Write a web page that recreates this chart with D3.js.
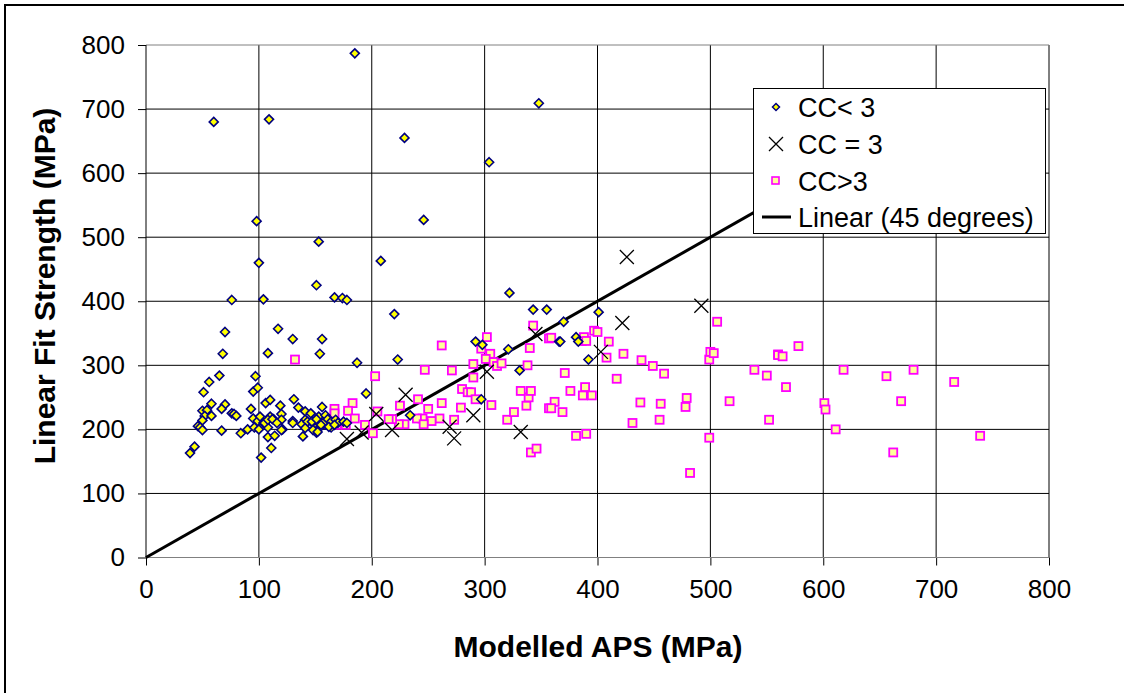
<!DOCTYPE html>
<html>
<head>
<meta charset="utf-8">
<title>Linear Fit Strength vs Modelled APS</title>
<style>
	body { margin: 0; background: #fff; }
	svg { display: block; font-family: "Liberation Sans", Arial, sans-serif; }
	.axis text { font-size: 26px; fill: #000; }
	.axis path { display: none; }
	.axis line { stroke: #000; }
	.title { font-size: 30px; font-weight: bold; }
	.legend text { font-size: 27px; }
</style>
<script src="https://cdn.jsdelivr.net/npm/d3@7"></script>
</head>
<body>
<script>
// CC < 3 (diamonds)
var ccLess3 = [
	[185,787],[348,709],[60,680],[109,684],[229,655],[304,617],[98,525],[246,527],
	[153,493],[100,460],[208,463],[151,425],[76,402],[104,403],[167,406],[174,405],
	[178,402],[322,413],[343,387],[355,387],[370,368],[70,352],[117,357],[220,380],
	[130,341],[156,341],[292,337],[366,337],[381,344],[68,318],[108,319],[154,318],
	[187,304],[223,309],[56,274],[65,284],[97,283],[51,258],[95,259],[99,265],
	[195,256],[58,240],[70,239],[67,232],[106,241],[110,246],[131,247],[119,237],
	[135,234],[93,232],[156,235],[50,229],[54,230],[76,225],[78,224],[80,221],
	[52,221],[58,221],[50,214],[95,217],[99,213],[110,220],[113,216],[120,224],
	[120,215],[130,213],[141,228],[146,225],[141,215],[138,208],[148,209],[153,220],
	[159,222],[162,210],[150,202],[154,203],[159,208],[164,203],[151,195],[46,205],
	[48,203],[50,199],[67,198],[84,194],[90,200],[96,203],[100,200],[104,210],
	[108,203],[121,200],[108,188],[114,190],[139,189],[111,171],[102,156],[43,173],
	[39,163],[143,212],[147,212],[151,216],[157,210],[161,216],[164,212],[168,215],
	[170,210],[175,212],[178,210],[155,207],[148,199],[152,196],[162,204],[167,207],
	[141,202],[130,210],[120,199],[105,210],[108,215],[112,216],[116,210],[101,220],
	[298,332],[321,325],[331,292],[297,247],[234,222],[401,383],[367,337],[383,337],
	[392,309]
];
// CC = 3 (crosses)
var ccEq3 = [
	[178,185],[191,195],[204,224],[218,199],[230,254],[269,204],[273,186],[290,222],
	[302,290],[332,196],[345,349],[403,321],[422,366],[426,469],[492,393]
];
// CC > 3 (squares)
var ccMore3 = [
	[262,331],[302,344],[297,326],[305,318],[301,310],[308,305],[311,299],[315,303],
	[290,302],[290,281],[247,293],[271,292],[203,283],[280,263],[285,258],[288,258],
	[292,247],[306,238],[241,247],[262,241],[250,232],[225,237],[279,234],[273,215],
	[260,217],[253,213],[245,217],[240,217],[246,208],[229,208],[224,208],[218,216],
	[215,216],[205,228],[194,207],[201,194],[183,241],[179,229],[185,217],[167,232],
	[169,207],[177,207],[167,225],[132,309],[320,215],[326,227],[337,237],[339,250],
	[332,260],[341,260],[338,300],[340,327],[343,362],[357,342],[341,164],[346,170],
	[357,233],[359,343],[371,288],[386,338],[388,344],[390,338],[397,354],[400,352],
	[410,337],[408,312],[423,318],[439,308],[449,299],[459,287],[417,279],[376,260],
	[389,266],[387,253],[395,253],[362,243],[359,233],[369,227],[381,190],[390,193],
	[438,242],[456,240],[455,215],[431,210],[479,249],[478,235],[482,132],[499,187],
	[517,244],[552,215],[499,309],[500,321],[503,319],[506,368],[539,293],[550,284],
	[560,317],[560,316],[564,314],[578,330],[567,266],[601,241],[602,231],[611,200],
	[618,293],[656,283],[680,293],[669,244],[662,164],[716,274],[739,190]
];
// 45 degree reference line (ends behind the legend)
var lineX = [0, 650];

var xTicks = [0, 100, 200, 300, 400, 500, 600, 700, 800];
var yTicks = [0, 100, 200, 300, 400, 500, 600, 700, 800];

var svg = d3.select("body").append("svg")
	.attr("width", 1124)
	.attr("height", 693);

// outer frame (only left and top edges fall inside the picture)
svg.append("rect")
	.attr("x", 5).attr("y", 5)
	.attr("width", 1200).attr("height", 800)
	.attr("fill", "none").attr("stroke", "#000").attr("stroke-width", 2);

var margin = {top: 45, left: 146},
	width = 903,
	height = 512.5;

var x = d3.scaleLinear().domain([0, 800]).range([0, width]),
	y = d3.scaleLinear().domain([0, 800]).range([height, 0]);

var g = svg.append("g")
	.attr("transform", "translate(" + margin.left + "," + margin.top + ")");

// grid
g.selectAll(".vgrid")
	.data(xTicks.slice(1))
	.enter().append("line")
		.attr("x1", function(d) { return x(d); })
		.attr("x2", function(d) { return x(d); })
		.attr("y1", 0).attr("y2", height)
		.attr("stroke", "#000").attr("stroke-width", 1);

g.selectAll(".hgrid")
	.data(yTicks.slice(1))
	.enter().append("line")
		.attr("x1", 0).attr("x2", width)
		.attr("y1", function(d) { return y(d); })
		.attr("y2", function(d) { return y(d); })
		.attr("stroke", function(d) { return d === 800 ? "#808080" : "#000"; })
		.attr("stroke-width", 1);

// axes
g.append("g")
	.attr("class", "axis")
	.attr("transform", "translate(0," + height + ")")
	.call(d3.axisBottom(x).tickValues(xTicks).tickSize(8).tickPadding(14));

g.append("g")
	.attr("class", "axis")
	.call(d3.axisLeft(y).tickValues(yTicks).tickSize(8).tickPadding(13));

g.append("line")
	.attr("x1", 0).attr("x2", width)
	.attr("y1", height).attr("y2", height)
	.attr("stroke", "#808080");
g.append("line")
	.attr("x1", 0).attr("x2", 0)
	.attr("y1", 0).attr("y2", height)
	.attr("stroke", "#000");

// 45 degree line
g.append("path")
	.datum(lineX)
	.attr("fill", "none")
	.attr("stroke", "#000")
	.attr("stroke-width", 3)
	.attr("d", d3.line()
		.x(function(d) { return x(d); })
		.y(function(d) { return y(d); }));

var diamond = "M0,-4.5L4.5,0L0,4.5L-4.5,0Z";
var cross = "M-7,-7L7,7M-7,7L7,-7";

g.selectAll(".sq")
	.data(ccMore3)
	.enter().append("rect")
		.attr("x", function(d) { return x(d[0]) - 4; })
		.attr("y", function(d) { return y(d[1]) - 4; })
		.attr("width", 8).attr("height", 8)
		.attr("fill", "#ffff99")
		.attr("stroke", "#ff00ff").attr("stroke-width", 1.8);

g.selectAll(".cr")
	.data(ccEq3)
	.enter().append("path")
		.attr("transform", function(d) { return "translate(" + x(d[0]) + "," + y(d[1]) + ")"; })
		.attr("d", cross)
		.attr("stroke", "#000").attr("stroke-width", 1.3).attr("fill", "none");

g.selectAll(".dm")
	.data(ccLess3)
	.enter().append("path")
		.attr("transform", function(d) { return "translate(" + x(d[0]) + "," + y(d[1]) + ")"; })
		.attr("d", diamond)
		.attr("fill", "#ffff00")
		.attr("stroke", "#000080").attr("stroke-width", 1.6);

// axis titles
svg.append("text")
	.attr("class", "title")
	.attr("x", 598).attr("y", 657)
	.attr("text-anchor", "middle")
	.text("Modelled APS (MPa)");

svg.append("text")
	.attr("class", "title")
	.attr("transform", "translate(55,286) rotate(-90)")
	.attr("text-anchor", "middle")
	.text("Linear Fit Strength (MPa)");

// legend
var legend = svg.append("g").attr("class", "legend");
legend.append("rect")
	.attr("x", 753.5).attr("y", 88.5)
	.attr("width", 292).attr("height", 145)
	.attr("fill", "#fff").attr("stroke", "#000");

var items = ["CC< 3", "CC = 3", "CC>3", "Linear (45 degrees)"];
var rowY = [107, 144, 181, 217];

legend.selectAll(".lt")
	.data(items)
	.enter().append("text")
		.attr("x", 798)
		.attr("y", function(d, i) { return rowY[i]; })
		.attr("dy", "0.36em")
		.text(function(d) { return d; });

legend.append("path")
	.attr("transform", "translate(776," + rowY[0] + ")")
	.attr("d", "M0,-3.5L3.5,0L0,3.5L-3.5,0Z")
	.attr("fill", "#ffff00").attr("stroke", "#000080").attr("stroke-width", 1.5);
legend.append("path")
	.attr("transform", "translate(776," + rowY[1] + ")")
	.attr("d", cross)
	.attr("stroke", "#000").attr("stroke-width", 1.3);
legend.append("rect")
	.attr("x", 772).attr("y", rowY[2] - 4)
	.attr("width", 7).attr("height", 7)
	.attr("fill", "#ffff99").attr("stroke", "#ff00ff").attr("stroke-width", 1.6);
legend.append("line")
	.attr("x1", 762).attr("x2", 791)
	.attr("y1", rowY[3]).attr("y2", rowY[3])
	.attr("stroke", "#000").attr("stroke-width", 3);
</script>
</body>
</html>
